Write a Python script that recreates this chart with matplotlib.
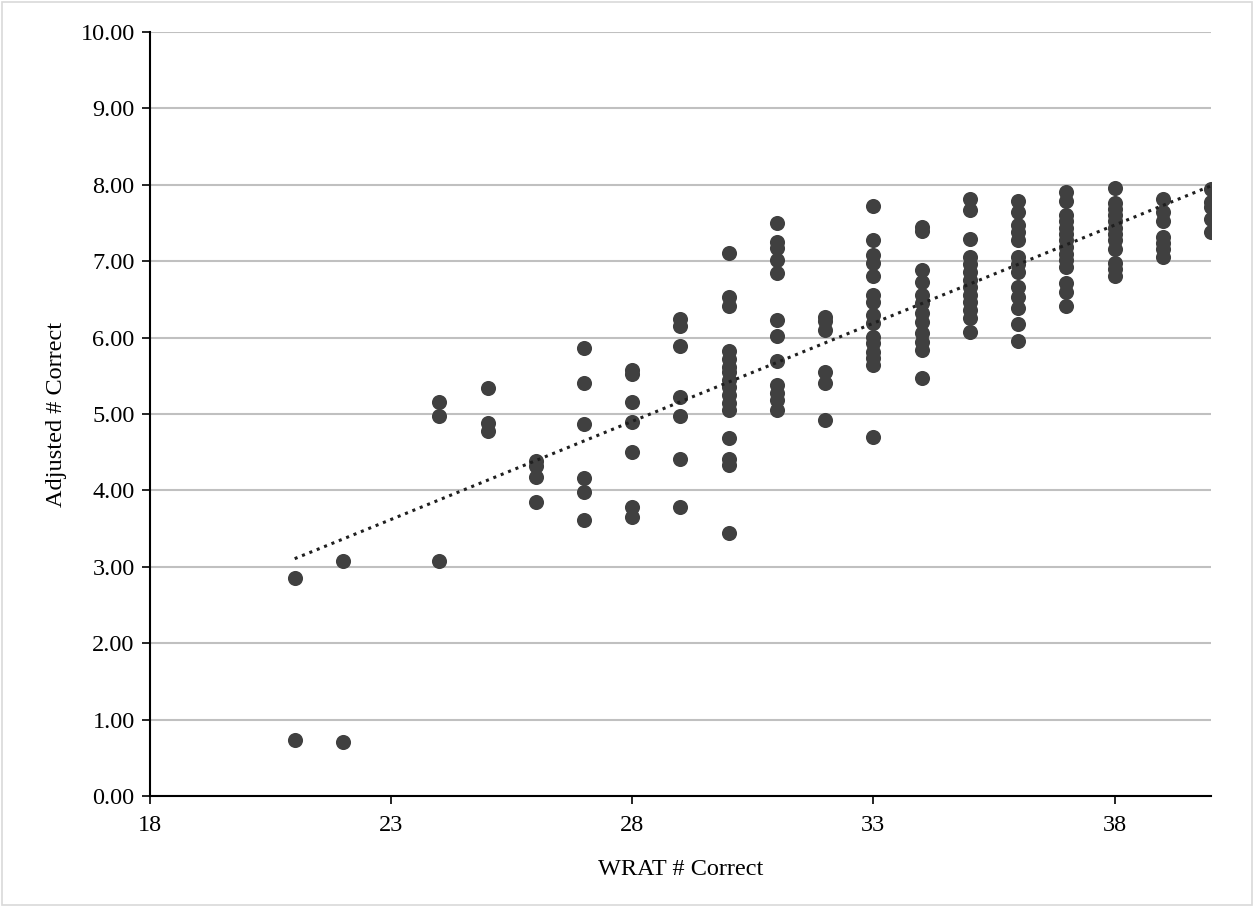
import matplotlib
matplotlib.use('Agg')
import matplotlib.pyplot as plt
from matplotlib.patches import Rectangle
import numpy as np

plt.rcParams['font.family'] = ['Liberation Serif', 'DejaVu Serif']

# WRAT score -> adjusted scores
wrat_21 = [2.85, 0.73]
wrat_22 = [3.08, 0.71]
wrat_24 = [5.16, 4.97, 3.08]
wrat_25 = [5.34, 4.88, 4.78]
wrat_26 = [4.38, 4.32, 4.17, 3.85]
wrat_27 = [5.86, 5.40, 4.87, 4.16, 3.98, 3.61]
wrat_28 = [5.58, 5.52, 5.16, 4.89, 4.50, 3.78, 3.65]
wrat_29 = [6.24, 6.15, 5.89, 5.22, 4.97, 4.41, 3.78]
wrat_30 = [7.11, 6.53, 6.41, 5.82, 5.72, 5.62, 5.55, 5.45, 5.35, 5.25, 5.15,
           5.05, 4.69, 4.41, 4.33, 3.44]
wrat_31 = [7.50, 7.25, 7.17, 7.02, 6.85, 6.23, 6.02, 5.69, 5.38, 5.27, 5.18, 5.05]
wrat_32 = [6.27, 6.22, 6.10, 5.55, 5.41, 4.92]
wrat_33 = [7.72, 7.28, 7.08, 6.97, 6.80, 6.56, 6.47, 6.30, 6.19, 6.01, 5.93,
           5.81, 5.73, 5.64, 4.70]
wrat_34 = [7.45, 7.40, 6.88, 6.73, 6.56, 6.45, 6.32, 6.20, 6.06, 5.94, 5.84, 5.47]
wrat_35 = [7.81, 7.67, 7.29, 7.06, 6.96, 6.86, 6.76, 6.66, 6.56, 6.46, 6.36,
           6.26, 6.07]
wrat_36 = [7.79, 7.64, 7.47, 7.38, 7.28, 7.05, 6.96, 6.86, 6.66, 6.53, 6.39,
           6.18, 5.95]
wrat_37 = [7.91, 7.79, 7.60, 7.52, 7.44, 7.36, 7.28, 7.19, 7.10, 7.01, 6.93,
           6.72, 6.60, 6.41]
wrat_38 = [7.96, 7.76, 7.68, 7.60, 7.52, 7.44, 7.36, 7.28, 7.16, 6.98, 6.90, 6.80]
wrat_39 = [7.82, 7.65, 7.52, 7.32, 7.24, 7.16, 7.06]
wrat_40 = [7.95, 7.78, 7.71, 7.55, 7.38]

columns = {21: wrat_21, 22: wrat_22, 24: wrat_24, 25: wrat_25, 26: wrat_26,
           27: wrat_27, 28: wrat_28, 29: wrat_29, 30: wrat_30, 31: wrat_31,
           32: wrat_32, 33: wrat_33, 34: wrat_34, 35: wrat_35, 36: wrat_36,
           37: wrat_37, 38: wrat_38, 39: wrat_39, 40: wrat_40}

x = []
y = []
for k, vals in columns.items():
    x += [k] * len(vals)
    y += vals
x = np.array(x, dtype=float)
y = np.array(y)

x_ticks = [18, 23, 28, 33, 38]
y_ticks = [0, 1, 2, 3, 4, 5, 6, 7, 8, 9, 10]

fig = plt.figure(figsize=(12.54, 9.07), dpi=100)
ax = fig.add_axes([150 / 1254, 111 / 907, 1061 / 1254, 764 / 907])

# outer chart border
fig.patches.append(Rectangle((2 / 1254, 2 / 907), 1250 / 1254, 903 / 907,
                             transform=fig.transFigure, fill=False,
                             edgecolor='#d9d9d9', linewidth=1.2))

ax.scatter(x, y, s=118, color='#404040', zorder=3, linewidths=0)

# linear trendline
m, b = np.polyfit(x, y, 1)
xt = np.array([x.min(), x.max()])
ax.plot(xt, m * xt + b, color='#1f1f1f', linestyle=(0, (1, 1.6)),
        linewidth=2.2, zorder=4)

ax.set_xlim(18, 40)
ax.set_ylim(0, 10)
ax.set_xticks(x_ticks)
ax.set_yticks(y_ticks)
ax.set_yticklabels([f"{v:.2f}" for v in y_ticks])
ax.yaxis.grid(True, color='#c0c0c0', linewidth=1.5)
ax.set_axisbelow(True)
for s in ['top', 'right']:
    ax.spines[s].set_visible(False)
ax.spines['left'].set_linewidth(1.5)
ax.spines['bottom'].set_linewidth(1.5)
ax.tick_params(axis='both', direction='out', length=6, width=1.2,
               labelsize=17.5, colors='black')
ax.tick_params(axis='y', pad=5)
ax.tick_params(axis='x', pad=8)
ax.set_xlabel("WRAT # Correct", fontsize=17.5, labelpad=16)
ax.set_ylabel("Adjusted # Correct", fontsize=17.5, labelpad=10)

plt.savefig("out.png", dpi=100)
